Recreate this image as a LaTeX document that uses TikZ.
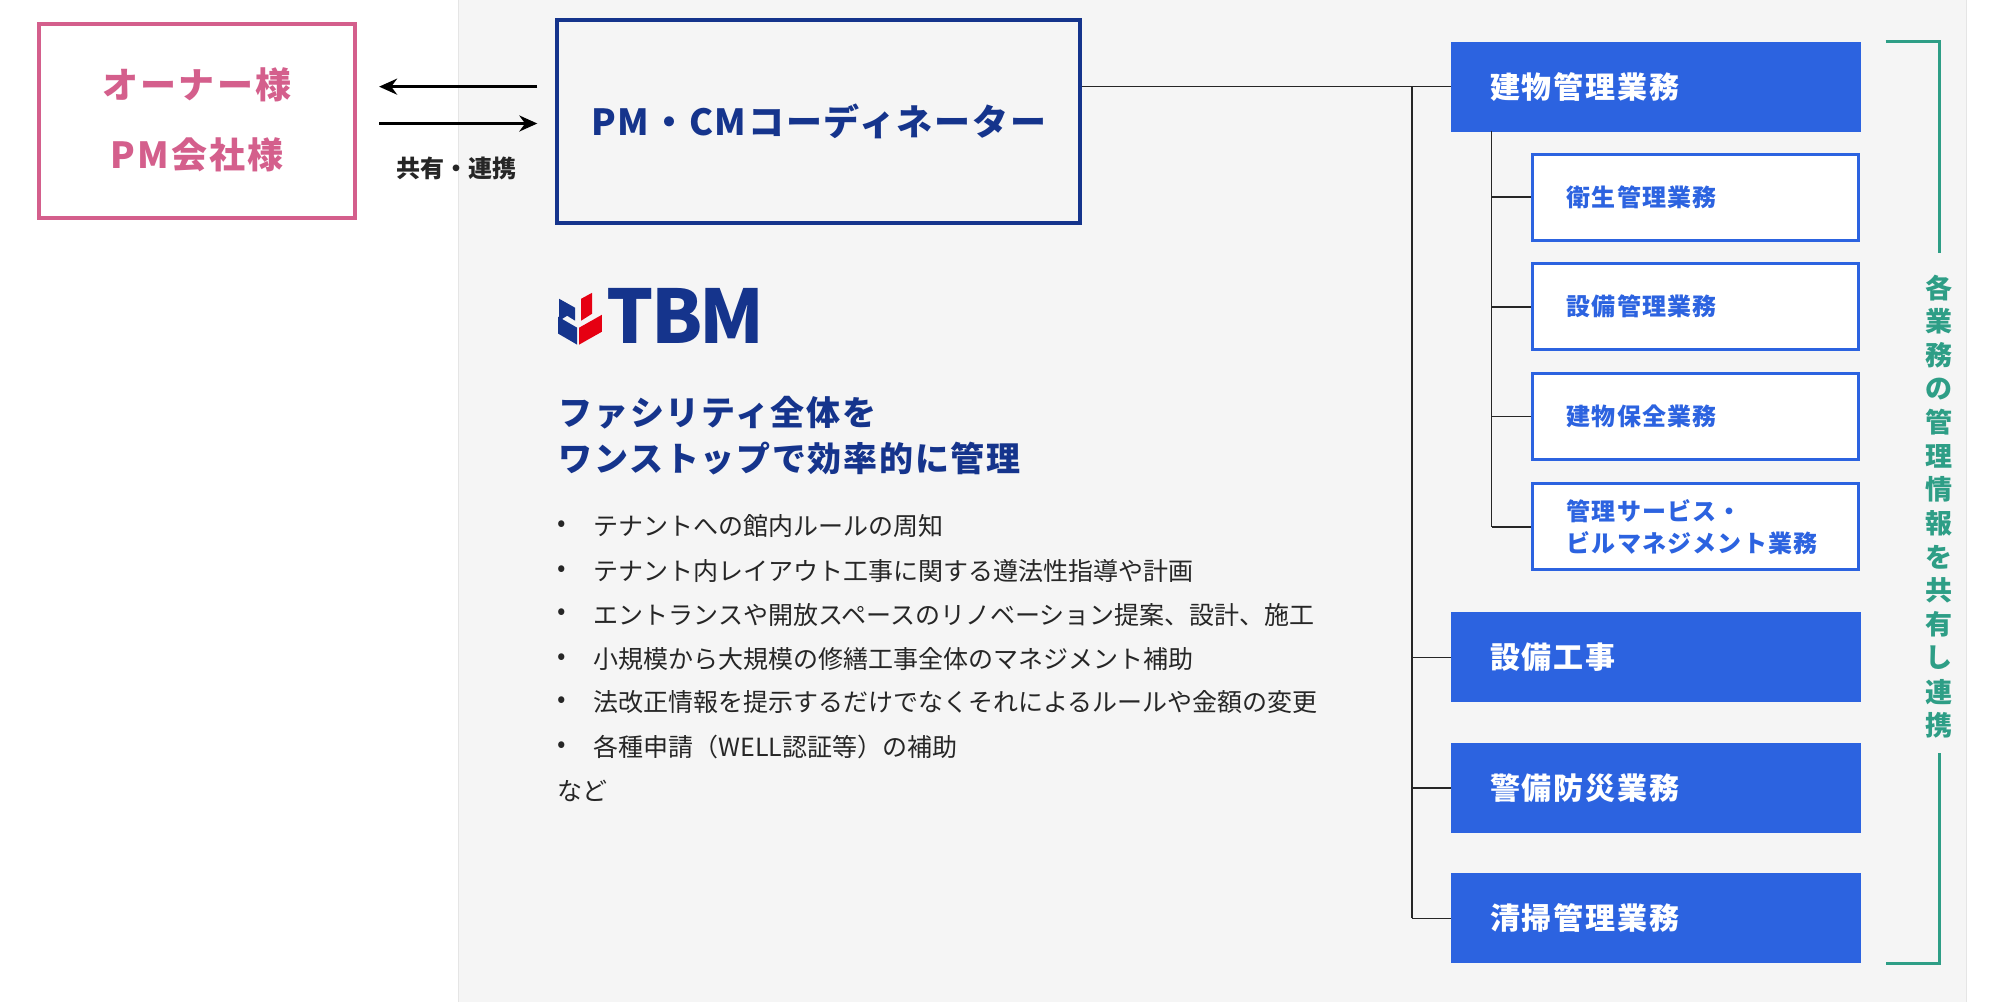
\documentclass[tikz,border=0pt]{standalone}
\usepackage{fontspec}
\usetikzlibrary{arrows.meta}
\setmainfont{Noto Sans CJK JP}
\begin{document}
\begin{tikzpicture}[x=0.995pt,y=-0.996pt,
  pink/.style={draw=cpink,line width=4pt},
  navybox/.style={draw=cnavy,line width=4pt},
  bluebox/.style={fill=cblue,draw=none},
  subbox/.style={draw=cblue,line width=3pt,fill=white},
  conn/.style={line width=1.5pt,draw=black!85},
  btxt/.style={text=white,font=\fontsize{30}{34}\selectfont\bfseries\addfontfeature{LetterSpace=6},anchor=west},
  stxt/.style={text=cblue,font=\fontsize{24}{32}\selectfont\bfseries\addfontfeature{LetterSpace=5},anchor=west,align=left},
  bul/.style={anchor=west,font=\fontsize{25}{30}\selectfont,text=black!85}]
\definecolor{cpink}{HTML}{D45F8C}
\definecolor{cnavy}{HTML}{15348C}
\definecolor{cblue}{HTML}{2C63E0}
\definecolor{cgreen}{HTML}{2E9E86}
\definecolor{cred}{HTML}{E60012}
\useasboundingbox (0,0) rectangle (2010,1006);
\fill[white] (0,0) rectangle (2010,1006);
\fill[black!4] (460,0) rectangle (1976,1006);
\draw[black!10] (460,0) -- (460,1006) (1976,0)--(1976,1006);
% owner
\node[pink,minimum width=316pt,minimum height=194pt] (own) at (198,121) {};
\node[text=cpink,font=\fontsize{36}{40}\selectfont\bfseries\addfontfeature{LetterSpace=6}] (own1) at (198,85) {オーナー様};
\node[text=cpink,font=\fontsize{36}{40}\selectfont\bfseries\addfontfeature{LetterSpace=6}] (own2) at (198,155) {PM会社様};
% pm
\node[navybox,minimum width=523pt,minimum height=203pt] (pm) at (823,122) {};
\node[text=cnavy,font=\fontsize{36}{40}\selectfont\bfseries\addfontfeature{LetterSpace=5}] (pmt) at (823,122) {PM・CMコーディネーター};
\coordinate (a1) at (540,87); \coordinate (a2) at (381,87);
\coordinate (b1) at (381,124); \coordinate (b2) at (540,124);
\draw[line width=3pt,-{Stealth[length=18pt,width=16pt]}] (a1) -- (a2);
\draw[line width=3pt,-{Stealth[length=18pt,width=16pt]}] (b1) -- (b2);
\node[font=\fontsize{24}{28}\selectfont\bfseries,text=black!85] (share) at (459,169) {共有・連携};
% logo
\fill[cnavy] (562,300)--(578,309)--(578,322)--(570,317)--(562,322)--cycle;
\fill[cred] (584,300)--(584,322)--(595,315)--(595,294)--cycle;
\fill[cnavy] (561,318)--(580,329)--(580,346)--(561,335)--cycle;
\fill[cred] (582,329)--(605,316)--(605,333)--(582,346)--cycle;
\node[anchor=west,text=cnavy,font=\fontsize{74}{74}\selectfont\bfseries\addfontfeature{LetterSpace=-4}] (tbm) at (606,317) {TBM};
% heading
\node[anchor=west,text=cnavy,font=\fontsize{34}{46}\selectfont\bfseries\addfontfeature{LetterSpace=5},align=left] (head) at (558,437) {ファシリティ全体を\\ワンストップで効率的に管理};
\foreach \y/\t [count=\i] in {528/テナントへの館内ルールの周知,573/テナント内レイアウト工事に関する遵法性指導や計画,617/エントランスや開放スペースのリノベーション提案、設計、施工,662/小規模から大規模の修繕工事全体のマネジメント補助,705/法改正情報を提示するだけでなくそれによるルールや金額の変更,750/各種申請（WELL認証等）の補助}{
  \node[bul] (bd\i) at (557,\y) {•};
  \node[bul] (bt\i) at (593,\y) {\t};
}
\node[bul] (nado) at (557,794) {など};
% right boxes
\node[bluebox,minimum width=410pt,minimum height=90pt] (k1) at (1664,87) {};
\node[btxt] at (1494,87) {建物管理業務};
\node[bluebox,minimum width=410pt,minimum height=90pt] (k2) at (1664,660) {};
\node[btxt] at (1494,660) {設備工事};
\node[bluebox,minimum width=410pt,minimum height=90pt] (k3) at (1664,791) {};
\node[btxt] at (1494,791) {警備防災業務};
\node[bluebox,minimum width=410pt,minimum height=90pt] (k4) at (1664,922) {};
\node[btxt] at (1494,922) {清掃管理業務};
\node[subbox,minimum width=326pt,minimum height=86pt] (s1) at (1704,198) {};
\node[stxt] at (1571,198) {衛生管理業務};
\node[subbox,minimum width=326pt,minimum height=86pt] (s2) at (1704,308) {};
\node[stxt] at (1571,308) {設備管理業務};
\node[subbox,minimum width=326pt,minimum height=86pt] (s3) at (1704,418) {};
\node[stxt] at (1571,418) {建物保全業務};
\node[subbox,minimum width=326pt,minimum height=86pt] (s4) at (1704,529) {};
\node[stxt] at (1571,529) {管理サービス・\\ビルマネジメント業務};
% connectors
\coordinate (tr0) at (1419,87); \coordinate (tr1) at (1419,922);
\draw[conn] (pm.east |- tr0) -- (k1.west);
\draw[conn] (tr0) -- (tr1);
\draw[conn] (k2.west -| tr0) -- (k2.west);
\draw[conn] (k3.west -| tr0) -- (k3.west);
\draw[conn] (k4.west -| tr0) -- (k4.west);
\coordinate (st0) at (1499,132);
\draw[conn] (st0) -- (st0 |- s4.west);
\foreach \s in {s1,s2,s3,s4} \draw[conn] (\s.west -| st0) -- (\s.west);
% bracket
\coordinate (g1) at (1895,42); \coordinate (g2) at (1949,42);
\coordinate (g3) at (1949,254); \coordinate (g4) at (1949,756);
\coordinate (g5) at (1949,967); \coordinate (g6) at (1895,967);
\draw[cgreen,line width=3pt] (g1) -- (g2) -- (g3);
\draw[cgreen,line width=3pt] (g4) -- (g5) -- (g6);
\foreach \c [count=\i] in {各,業,務,の,管,理,情,報,を,共,有,し,連,携}{
  \node[text=cgreen,font=\fontsize{27}{27}\selectfont\bfseries] (v\i) at (1949,{255+33.8*\i}) {\c};
}
\end{tikzpicture}
\end{document}
